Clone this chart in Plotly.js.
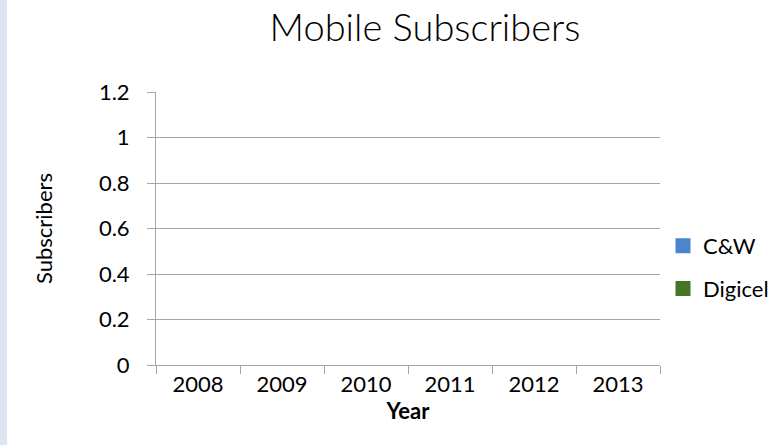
<!DOCTYPE html>
<html>
<head>
<meta charset="utf-8">
<script src="https://cdn.plot.ly/plotly-3.0.1.min.js"></script>
<style>
html, body { margin: 0; padding: 0; background: #ffffff; }
#chart { width: 782px; height: 445px; }
</style>
</head>
<body>
<div id="chart"></div>
<script>
// Data (chart shows no bars: series are empty)
var years = ['2008', '2009', '2010', '2011', '2012', '2013'];
var seriesNames = ['C&W', 'Digicel'];
var cwValues = [null, null, null, null, null, null];
var digicelValues = [null, null, null, null, null, null];
var yTickVals = [0, 0.2, 0.4, 0.6, 0.8, 1, 1.2];
var yTickText = ['0', '0.2', '0.4', '0.6', '0.8', '1', '1.2'];

var W = 782, H = 445;
var M = { l: 156, r: 122, t: 92, b: 80 };
var plotW = W - M.l - M.r, plotH = H - M.t - M.b;
var FONT = 'Lato, Carlito, Calibri, "Open Sans", sans-serif';
var gridCol = '#a6a6a6';

var traces = [
  { type: 'bar', name: seriesNames[0], x: years, y: cwValues, legendgroup: 'a',
    marker: { color: '#4a86cc', line: { color: '#4a86cc', width: 3 } } },
  { type: 'bar', name: seriesNames[1], x: years, y: digicelValues, legendgroup: 'b',
    marker: { color: '#467526', line: { color: '#467526', width: 3 } } }
];

var layout = {
  width: W, height: H,
  margin: M,
  paper_bgcolor: '#ffffff', plot_bgcolor: '#ffffff',
  font: { family: FONT, size: 22, color: '#000000' },
  showlegend: true,
  title: {
    text: 'Mobile Subscribers',
    font: { family: FONT, size: 38, weight: 300, color: '#000000' },
    xref: 'container', x: 425 / W, xanchor: 'center',
    yref: 'container', y: 1 - 28 / H, yanchor: 'middle'
  },
  xaxis: {
    type: 'category',
    categoryorder: 'array', categoryarray: years,
    range: [-0.5, years.length - 0.5],
    fixedrange: true,
    showgrid: false, zeroline: false,
    showline: true, linecolor: gridCol, linewidth: 1,
    ticks: 'outside', tickson: 'boundaries', ticklen: 8, tickcolor: gridCol, tickwidth: 1,
    tickfont: { family: FONT, size: 22, color: '#000000' },
    ticklabelstandoff: 0,
    title: { text: '<b>Year</b>', font: { family: FONT, size: 22, color: '#000000' }, standoff: 3 }
  },
  yaxis: {
    range: [0, 1.2],
    tickvals: yTickVals, ticktext: yTickText,
    fixedrange: true,
    showgrid: true, gridcolor: gridCol, gridwidth: 1,
    zeroline: false,
    showline: true, linecolor: gridCol, linewidth: 1,
    ticks: 'outside', ticklen: 8, tickcolor: gridCol, tickwidth: 1,
    tickfont: { family: FONT, size: 22, color: '#000000' },
    ticklabelstandoff: 13,
    title: { text: 'Subscribers', font: { family: FONT, size: 22, color: '#000000' }, standoff: 40 }
  },
  legend: {
    xref: 'container', yref: 'container',
    x: 663 / W, xanchor: 'left',
    y: 1 - 225 / H, yanchor: 'top',
    traceorder: 'grouped', tracegroupgap: 11,
    itemwidth: 30,
    bgcolor: 'rgba(0,0,0,0)',
    font: { family: FONT, size: 22, color: '#000000' }
  },
  shapes: [
    { type: 'rect', xref: 'paper', yref: 'paper', layer: 'below',
      xsizemode: 'pixel', xanchor: -M.l / plotW, x0: 0, x1: 7,
      y0: -M.b / plotH - 0.01, y1: 1 + M.t / plotH + 0.01,
      fillcolor: '#dce6f2', line: { width: 0 } }
  ]
};

Plotly.newPlot('chart', traces, layout, { displayModeBar: false, staticPlot: true });
</script>
</body>
</html>
